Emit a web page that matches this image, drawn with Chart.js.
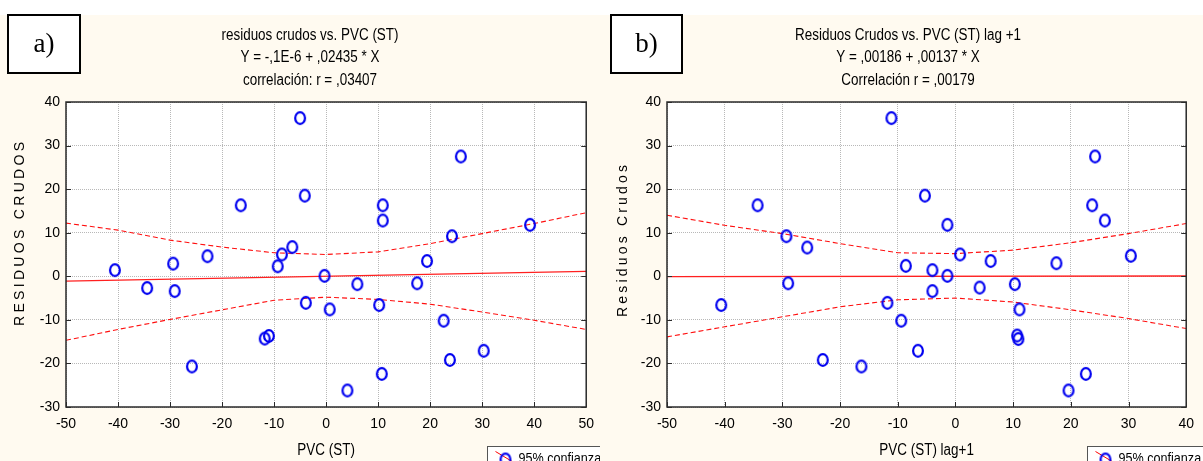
<!DOCTYPE html>
<html>
<head>
<meta charset="utf-8">
<script src="https://cdn.jsdelivr.net/npm/chart.js@4.4.1/dist/chart.umd.min.js"></script>
<style>
  html, body { margin: 0; padding: 0; background: #fff; }
  #wrap { position: relative; width: 1203px; height: 461px; overflow: hidden; }
  .pane { position: absolute; top: 0; }
</style>
</head>
<body>
<div id="wrap">
  <div class="pane" style="left:0"><canvas id="chartA" width="603" height="461"></canvas></div>
  <div class="pane" style="left:600px"><canvas id="chartB" width="603" height="461"></canvas></div>
</div>
<script>
// --- panel a) residuos crudos vs. PVC (ST)
const pvcA = [-40.6, -34.4, -29.4, -29.1, -25.8, -22.8, -16.4, -11.8, -11.0, -9.3, -8.5, -6.5, -5.0, -4.1, -3.9,
              -0.3, 0.7, 4.1, 6.0, 10.2, 10.7, 10.9, 10.9, 17.5, 19.4, 22.6, 23.8, 24.2, 25.9, 30.3, 39.2];
const resA = [1.4, -2.7, 2.9, -3.4, -20.7, 4.6, 16.3, -14.3, -13.7, 2.3, 5.0, 6.7, 36.3, 18.5, -6.1,
              0.1, -7.6, -26.2, -1.8, -6.6, -22.4, 16.3, 12.8, -1.6, 3.5, -10.2, -19.2, 9.2, 27.5, -17.1, 11.8];
const fitXA = [-50, 50];
const fitYA = [-1.1, 1.15];
const bandXA = [-50, -40, -30, -20, -10, 0, 10, 20, 30, 40, 50];
const upperA = [12.2, 10.6, 8.3, 6.7, 5.4, 5.0, 5.6, 7.5, 9.8, 12.1, 14.6];
const lowerA = [-14.7, -12.2, -9.9, -7.7, -5.5, -4.8, -5.3, -6.4, -8.2, -10.1, -12.2];
const titleA = ['residuos crudos vs. PVC (ST)', 'Y = -,1E-6 + ,02435 * X', 'correlación: r = ,03407'];

// --- panel b) Residuos Crudos vs. PVC (ST) lag +1
const pvcB = [-40.6, -34.3, -29.3, -29.0, -25.7, -23.0, -16.3, -11.8, -11.1, -9.4, -8.6, -6.5, -5.3, -4.0, -4.0,
              -1.4, -1.4, 0.8, 4.2, 6.1, 10.3, 11.1, 10.7, 10.9, 17.5, 19.6, 22.6, 23.7, 24.2, 25.9, 30.4];
const resB = [-6.6, 16.3, 9.2, -1.6, 6.6, -19.2, -20.7, -6.1, 36.3, -10.2, 2.4, -17.1, 18.5, 1.4, -3.4,
              11.8, 0.1, 5.0, -2.6, 3.5, -1.8, -7.6, -13.6, -14.4, 3.0, -26.2, -22.4, 16.3, 27.5, 12.8, 4.7];
const fitXB = [-50, 40];
const fitYB = [-0.07, 0.06];
const bandXB = [-50, -40, -30, -20, -10, 0, 10, 20, 30, 40];
const upperB = [14.0, 11.7, 9.8, 7.5, 5.4, 5.2, 6.0, 7.7, 9.8, 12.1];
const lowerB = [-13.9, -11.6, -9.3, -7.0, -5.4, -5.0, -5.9, -7.7, -9.7, -12.0];
const titleB = ['Residuos Crudos vs. PVC (ST) lag +1', 'Y = ,00186 + ,00137 * X', 'Correlación r = ,00179'];

const SANS = '"Liberation Sans", Arial, sans-serif';
const CREAM = '#fffaf0';

// ellipse marker like the original (slightly taller than wide)
function makeMarker() {
    const c = document.createElement('canvas');
    c.width = 14; c.height = 16;
    const g = c.getContext('2d');
    g.strokeStyle = '#0000f0';
    g.lineWidth = 2.2;
    g.beginPath();
    g.ellipse(7, 8, 4.9, 5.8, 0, 0, Math.PI * 2);
    g.stroke();
    return c;
}
const marker = makeMarker();

function pts(xs, ys) {
    return xs.map((x, i) => ({ x: x, y: ys[i] }));
}

// condensed text (the original uses a narrow face)
function narrow(ctx, text, x, y, align) {
    ctx.save();
    ctx.translate(x, y);
    ctx.scale(0.84, 1);
    ctx.textAlign = align || 'center';
    ctx.textBaseline = 'middle';
    ctx.fillText(text, 0, 0);
    ctx.restore();
}

function spacedVertical(ctx, text, cx, cy, target) {
    const chars = text.split('');
    const widths = chars.map(ch => ctx.measureText(ch).width);
    const raw = widths.reduce((a, b) => a + b, 0);
    const gap = (target - raw) / (chars.length - 1);
    ctx.save();
    ctx.translate(cx, cy);
    ctx.rotate(-Math.PI / 2);
    let x = -target / 2;
    ctx.textAlign = 'left';
    ctx.textBaseline = 'middle';
    chars.forEach((ch, i) => {
        ctx.fillText(ch, x, 0);
        x += widths[i] + gap;
    });
    ctx.restore();
}

function decorPlugin(cfg) {
    return {
        id: 'decor',
        beforeDraw(chart) {
            const ctx = chart.ctx;
            ctx.save();
            ctx.fillStyle = '#ffffff';
            ctx.fillRect(0, 0, chart.width, chart.height);
            ctx.fillStyle = CREAM;
            ctx.fillRect(0, 15, chart.width, chart.height - 15);
            const a = chart.chartArea;
            ctx.fillStyle = '#ffffff';
            ctx.fillRect(a.left, a.top, a.right - a.left, a.bottom - a.top);
            ctx.restore();
        },
        afterDraw(chart) {
            const ctx = chart.ctx;
            const a = chart.chartArea;
            const xs = chart.scales.x, ys = chart.scales.y;
            ctx.save();

            // frame and inward tick marks
            ctx.strokeStyle = '#2a2a2a';
            ctx.lineWidth = 1.5;
            ctx.strokeRect(a.left, a.top, a.right - a.left, a.bottom - a.top);
            ctx.lineWidth = 1;
            ctx.beginPath();
            ys.ticks.forEach(t => {
                const y = Math.round(ys.getPixelForValue(t.value)) + 0.5;
                ctx.moveTo(a.left, y); ctx.lineTo(a.left + 5, y);
                ctx.moveTo(a.right, y); ctx.lineTo(a.right - 5, y);
            });
            xs.ticks.forEach(t => {
                const x = Math.round(xs.getPixelForValue(t.value)) + 0.5;
                ctx.moveTo(x, a.bottom); ctx.lineTo(x, a.bottom - 5);
            });
            ctx.stroke();

            // title lines
            ctx.fillStyle = '#000';
            ctx.font = '16px ' + SANS;
            cfg.title.forEach((line, i) => narrow(ctx, line, cfg.titleX, 35.5 + i * 22.5));

            // x axis title
            narrow(ctx, cfg.xTitle, (a.left + a.right) / 2, 451);

            // y axis title, letter spaced
            ctx.font = '14px ' + SANS;
            spacedVertical(ctx, cfg.yTitle, cfg.yTitleX, cfg.yTitleY, cfg.yTitleLen);

            // panel label box
            ctx.fillStyle = '#ffffff';
            ctx.fillRect(cfg.box[0], 15, cfg.box[1] - cfg.box[0], 58);
            ctx.strokeStyle = '#000';
            ctx.lineWidth = 2;
            ctx.strokeRect(cfg.box[0], 15, cfg.box[1] - cfg.box[0], 58);
            ctx.fillStyle = '#000';
            ctx.font = '27px "Liberation Serif", "Times New Roman", serif';
            ctx.textAlign = 'center';
            ctx.textBaseline = 'middle';
            ctx.fillText(cfg.label, (cfg.box[0] + cfg.box[1]) / 2, 45);

            // legend
            const lx = 487.5, ly = 446.5;
            ctx.fillStyle = '#ffffff';
            ctx.fillRect(lx, ly, 125, 20);
            ctx.strokeStyle = '#555';
            ctx.lineWidth = 1;
            ctx.strokeRect(lx, ly, 125, 20);
            ctx.strokeStyle = '#ff0000';
            ctx.beginPath();
            ctx.moveTo(lx + 8, ly + 5); ctx.lineTo(lx + 28, ly + 17);
            ctx.stroke();
            ctx.drawImage(marker, lx + 11, ly + 5);
            ctx.fillStyle = '#000';
            ctx.font = '15px ' + SANS;
            narrow(ctx, '95% confianza', lx + 31, ly + 12, 'left');
            ctx.restore();
        }
    };
}

function buildChart(id, d) {
    const tickFont = { family: SANS, size: 14 };
    new Chart(document.getElementById(id).getContext('2d'), {
        type: 'scatter',
        data: {
            datasets: [
                {
                    data: pts(d.x, d.y),
                    pointStyle: marker,
                    pointRadius: 6,
                    showLine: false
                },
                {
                    data: pts(d.fitX, d.fitY),
                    showLine: true,
                    borderColor: '#ff2020',
                    borderWidth: 1.3,
                    pointRadius: 0
                },
                {
                    data: pts(d.bandX, d.upper),
                    showLine: true,
                    borderColor: '#ff1010',
                    borderWidth: 1.1,
                    borderDash: [5, 3],
                    pointRadius: 0
                },
                {
                    data: pts(d.bandX, d.lower),
                    showLine: true,
                    borderColor: '#ff1010',
                    borderWidth: 1.1,
                    borderDash: [5, 3],
                    pointRadius: 0
                }
            ]
        },
        options: {
            responsive: false,
            animation: false,
            events: [],
            layout: { padding: { left: 0, right: d.padRight, top: 102, bottom: 0 } },
            plugins: {
                legend: { display: false },
                tooltip: { enabled: false }
            },
            scales: {
                x: {
                    type: 'linear',
                    min: -50,
                    max: d.xMax,
                    afterFit: s => { s.height = 54; },
                    ticks: { stepSize: 10, padding: 9, color: '#000', font: tickFont, maxRotation: 0 },
                    grid: { color: '#b8b8b8', drawTicks: false, lineWidth: 1 },
                    border: { display: false, dash: [1, 1] }
                },
                y: {
                    min: -30,
                    max: 40,
                    afterFit: s => { s.width = d.yWidth; },
                    ticks: { stepSize: 10, padding: 6, color: '#000', font: tickFont },
                    grid: { color: '#b8b8b8', drawTicks: false, lineWidth: 1 },
                    border: { display: false, dash: [1, 1] }
                }
            }
        },
        plugins: [decorPlugin(d.cfg)]
    });
}

// panel a canvas is 3px wider and sits under panel b, so its last tick label gets clipped like the original
buildChart('chartA', {
    x: pvcA, y: resA, fitX: fitXA, fitY: fitYA, bandX: bandXA, upper: upperA, lower: lowerA,
    xMax: 50, padRight: 7, yWidth: 66,
    cfg: { title: titleA, titleX: 310, xTitle: 'PVC (ST)', yTitle: 'RESIDUOS CRUDOS',
           yTitleX: 20, yTitleY: 234, yTitleLen: 184, box: [8, 80], label: 'a)' }
});

buildChart('chartB', {
    x: pvcB, y: resB, fitX: fitXB, fitY: fitYB, bandX: bandXB, upper: upperB, lower: lowerB,
    xMax: 40, padRight: 7, yWidth: 67,
    cfg: { title: titleB, titleX: 308, xTitle: 'PVC (ST) lag+1', yTitle: 'Residuos Crudos',
           yTitleX: 23, yTitleY: 241, yTitleLen: 152, box: [11, 82], label: 'b)' }
});
</script>
</body>
</html>
